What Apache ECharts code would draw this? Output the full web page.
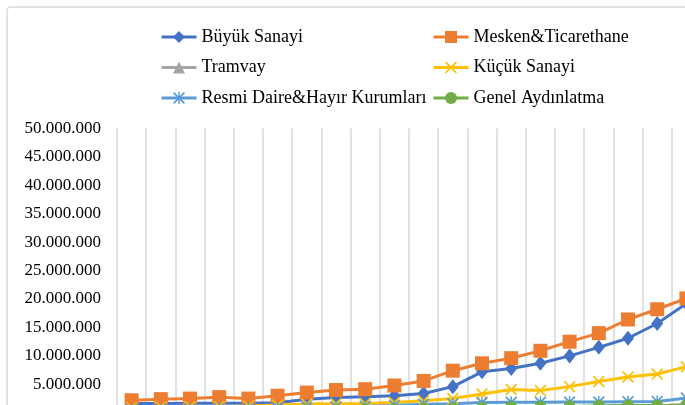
<!DOCTYPE html>
<html>
<head>
<meta charset="utf-8">
<script src="https://cdn.jsdelivr.net/npm/echarts@6/dist/echarts.min.js"></script>
<style>
  html,body{margin:0;padding:0;background:#fff;}
  .main{width:685px;height:405px;}
</style>
</head>
<body>
<div class="main" id="main"></div>
<script>
  var years=['1930','1931','1932','1933','1934','1935','1936','1937','1938','1939',
             '1940','1941','1942','1943','1944','1945','1946','1947','1948','1949'];

  // values in kWh
  var buyukSanayi=[1650000,1650000,1700000,1700000,1700000,1750000,2400000,2700000,2800000,3000000,
                   3400000,4600000,7200000,7800000,8700000,10000000,11500000,13100000,15700000,19200000];
  var mesken=[2200000,2400000,2500000,2750000,2500000,3000000,3550000,4000000,4150000,4800000,
              5600000,7400000,8700000,9600000,10900000,12500000,14000000,16400000,18200000,20100000];
  var tramvay=[400000,420000,440000,460000,480000,500000,520000,560000,600000,650000,
               700000,750000,800000,850000,900000,950000,1000000,1100000,1200000,1450000];
  var kucukSanayi=[900000,1000000,1050000,1100000,1200000,1350000,1550000,1600000,1650000,1800000,
                   2100000,2500000,3300000,4100000,3900000,4600000,5500000,6300000,6800000,8100000];
  var resmiDaire=[600000,650000,700000,750000,800000,850000,950000,1050000,1150000,1300000,
                  1500000,1600000,1800000,1850000,1850000,1900000,1900000,1950000,2000000,2600000];
  var genelAydinlatma=[300000,320000,340000,360000,380000,400000,450000,500000,550000,600000,
                       700000,800000,900000,1000000,1050000,1100000,1250000,1300000,1300000,1350000];

  var xMark='path://M0,1L1,0L5,4L9,0L10,1L6,5L10,9L9,10L5,6L1,10L0,9L4,5Z';
  var starMark='path://M0,1L1,0L5,4L9,0L10,1L6,5L10,9L9,10L5,6L1,10L0,9L4,5Z M4.4,0L5.6,0L5.6,10L4.4,10Z';

  function fmt(v){
    return String(v).replace(/\B(?=(\d{3})+(?!\d))/g,'.');
  }

  function line(name,data,color,symbol,size){
    return {
      name:name,
      type:'line',
      data:data,
      symbol:symbol,
      symbolSize:size,
      lineStyle:{color:color,width:3},
      itemStyle:{color:color},
      z:3
    };
  }

  var myChart=echarts.init(document.getElementById('main'));
  var font='"Liberation Serif","Times New Roman",serif';

  var legendBase={
    orient:'vertical',
    top:23,
    itemWidth:35,itemHeight:15,itemGap:12.5,
    lineStyle:{width:3},
    textStyle:{fontFamily:font,fontSize:18,color:'#000'}
  };

  var option={
    animation:false,
    color:['#4472C4','#ED7D31','#A5A5A5','#FFC000','#5B9BD5','#70AD47'],
    graphic:[{
      type:'rect',
      shape:{x:7,y:7,width:720,height:440,r:4},
      style:{fill:'none',stroke:'#d9d9d9',lineWidth:1.5},
      silent:true
    }],
    legend:[
      Object.assign({},legendBase,{left:155,data:['Büyük Sanayi','Tramvay','Resmi Daire&Hayır Kurumları']}),
      Object.assign({},legendBase,{left:427,data:['Mesken&Ticarethane','Küçük Sanayi','Genel Aydınlatma']})
    ],
    grid:{left:117,top:128.3,width:584,height:284.5,outerBoundsMode:'none',containLabel:false},
    xAxis:{
      type:'category',
      data:years,
      boundaryGap:true,
      axisLine:{show:false},
      axisTick:{show:false},
      axisLabel:{show:false},
      splitLine:{show:true,interval:0,lineStyle:{color:'#d9d9d9',width:1.5}}
    },
    yAxis:{
      type:'value',
      min:0,max:50000000,interval:5000000,
      axisLine:{show:false},
      axisTick:{show:false},
      splitLine:{show:false},
      axisLabel:{
        margin:16,
        fontFamily:font,fontSize:17,color:'#000',
        formatter:fmt
      }
    },
    series:[
      line('Büyük Sanayi',buyukSanayi,'#4472C4','diamond',[12,15]),
      line('Mesken&Ticarethane',mesken,'#ED7D31','rect',14),
      line('Tramvay',tramvay,'#A5A5A5','triangle',12),
      line('Küçük Sanayi',kucukSanayi,'#FFC000',xMark,12),
      line('Resmi Daire&Hayır Kurumları',resmiDaire,'#5B9BD5',starMark,12),
      line('Genel Aydınlatma',genelAydinlatma,'#70AD47','circle',12)
    ]
  };

  myChart.setOption(option);
</script>
</body>
</html>
